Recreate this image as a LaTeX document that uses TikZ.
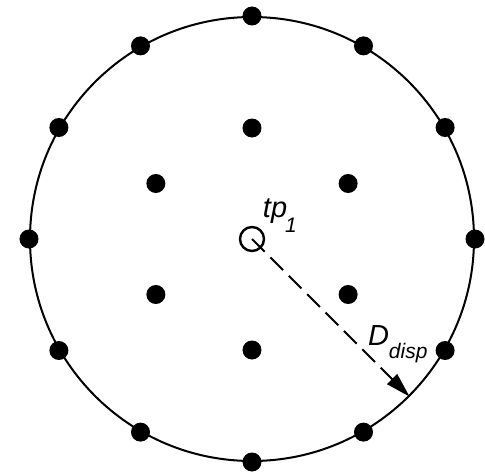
\documentclass[tikz,border=0pt]{standalone}
\usepackage{fontspec}
\setmainfont{Liberation Sans}
\usetikzlibrary{arrows.meta,positioning}

\begin{document}
\begin{tikzpicture}[x=1pt,y=1pt,line width=2pt,
  dot/.style={circle,fill=black,inner sep=0pt,minimum size=19pt},
  ring/.style={circle,draw,inner sep=0pt,minimum size=444pt},
  tpnode/.style={circle,draw,line width=2.4pt,inner sep=0pt,minimum size=24pt},
  lbl/.style={inner sep=0pt,font=\fontsize{29}{34}\selectfont\itshape}]
  \useasboundingbox (-252,-233) rectangle (233,239);
  \node[ring] (r) at (0,0) {};
  \node[tpnode] (c) at (0,0) {};
  % outer and inner points
  \foreach \a in {0,30,...,330}
    \node[dot] (o\a) at (r.\a) {};
  \foreach \a in {30,90,...,330}
    \node[dot] (i\a) at (\a:111) {};
  \node[lbl,anchor=base west] (tp) at (10,22) {tp\kern-2pt\raisebox{-15pt}{\fontsize{21}{24}\selectfont 1}};
  \node[lbl,anchor=base west] (dd) at (115,-106) {D\raisebox{-13pt}{\fontsize{21}{24}\selectfont disp}};
  \draw[dash pattern=on 18pt off 8pt,-{Triangle[length=25pt,width=14pt]}] (c.center) -- (r.-45);
\end{tikzpicture}
\end{document}
